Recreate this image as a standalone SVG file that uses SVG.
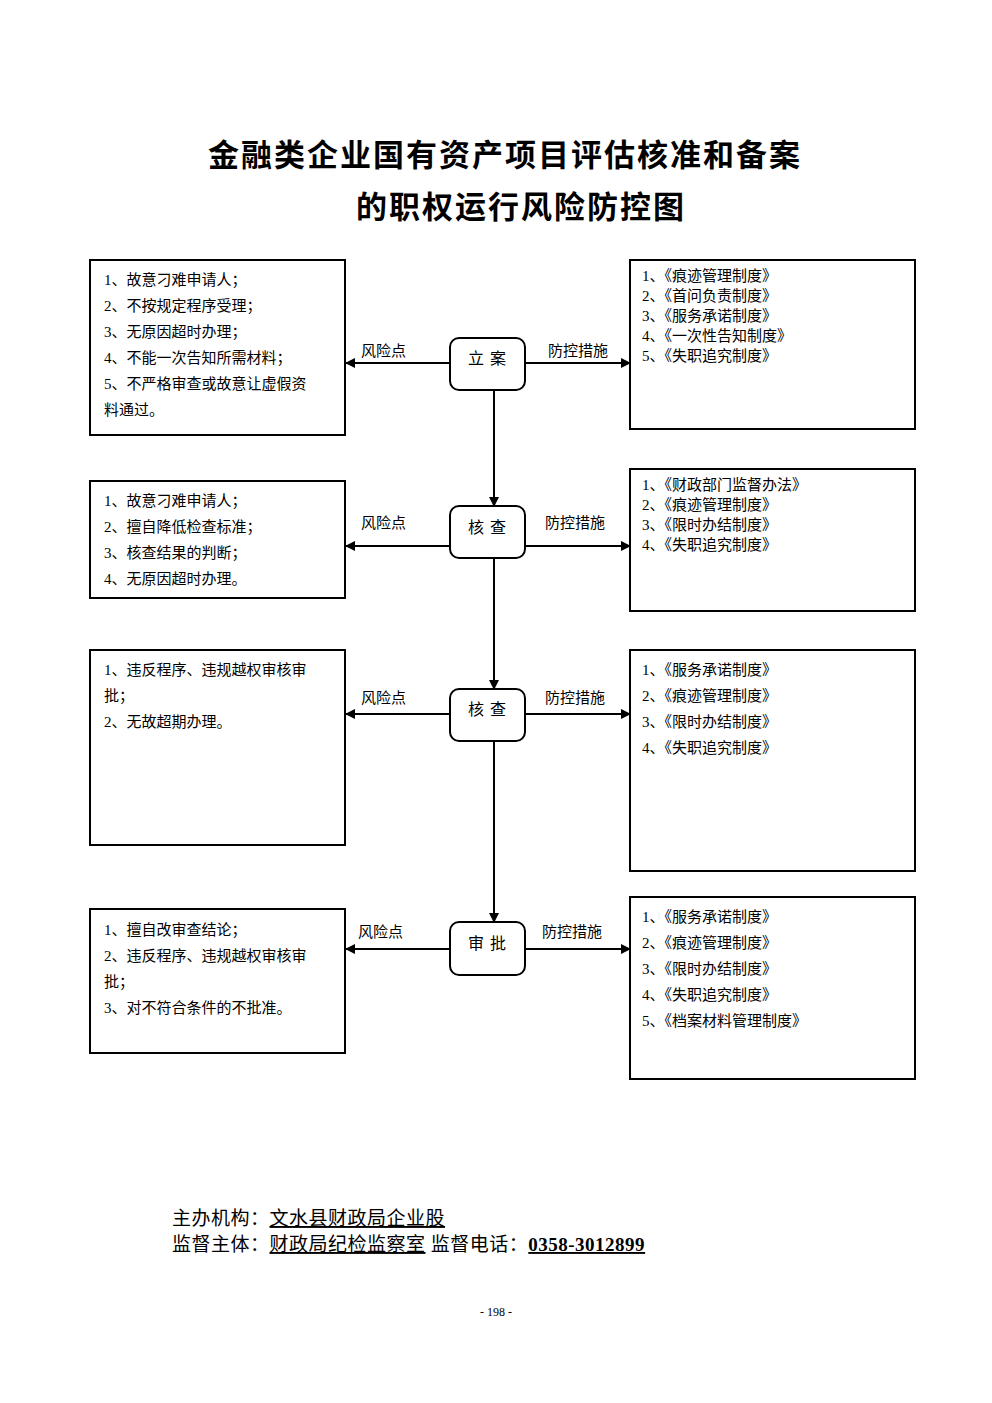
<svg xmlns="http://www.w3.org/2000/svg" width="992" height="1403" viewBox="0 0 992 1403">
<defs>
<marker id="ah" markerWidth="10" markerHeight="10" refX="9" refY="5" orient="auto" markerUnits="userSpaceOnUse"><path d="M0,0 L10,5 L0,10 Z" fill="#000"/></marker>
<style>
.b{fill:#fff;stroke:#000;stroke-width:2}
.n{fill:#fff;stroke:#000;stroke-width:2}
.t{font-family:"Liberation Serif","Noto Sans CJK SC",serif;font-size:15px;fill:#000}
.nt{font-family:"Liberation Serif","Noto Sans CJK SC",serif;font-size:16px;fill:#000;text-anchor:middle;letter-spacing:6px}
.l{stroke:#000;stroke-width:2;fill:none;marker-end:url(#ah)}
.h{font-family:"Noto Sans CJK SC",serif;font-size:31px;font-weight:bold;text-anchor:middle;letter-spacing:2px}
.f{font-family:"Liberation Serif","Noto Sans CJK SC",serif;font-size:19px;letter-spacing:0.5px}
</style>
</defs>
<rect width="992" height="1403" fill="#fff"/>
<text class="h" x="505" y="166">金融类企业国有资产项目评估核准和备案</text>
<text class="h" x="521" y="218">的职权运行风险防控图</text>
<g id="connectors">
<path class="l" d="M494,390 V506"/>
<path class="l" d="M494,558 V689"/>
<path class="l" d="M494,741 V922"/>
<path class="l" d="M450,363 H346"/><path class="l" d="M525,363 H630"/>
<path class="l" d="M450,546 H346"/><path class="l" d="M525,546 H630"/>
<path class="l" d="M450,714 H346"/><path class="l" d="M525,714 H630"/>
<path class="l" d="M450,949 H346"/><path class="l" d="M525,949 H630"/>
<text class="t" x="361" y="356">风险点</text><text class="t" x="548" y="356">防控措施</text>
<text class="t" x="361" y="528">风险点</text><text class="t" x="545" y="528">防控措施</text>
<text class="t" x="361" y="703">风险点</text><text class="t" x="545" y="703">防控措施</text>
<text class="t" x="358" y="937">风险点</text><text class="t" x="542" y="937">防控措施</text>
</g>
<g id="n1"><rect class="n" x="450" y="338" width="75" height="52" rx="9"/><text class="nt" x="490" y="364">立案</text></g>
<g id="n2"><rect class="n" x="450" y="506" width="75" height="52" rx="9"/><text class="nt" x="490" y="533">核查</text></g>
<g id="n3"><rect class="n" x="450" y="689" width="75" height="52" rx="9"/><text class="nt" x="490" y="715">核查</text></g>
<g id="n4"><rect class="n" x="450" y="922" width="75" height="53" rx="9"/><text class="nt" x="490" y="949">审批</text></g>
<g id="L1"><rect class="b" x="90" y="260" width="255" height="175"/>
<text class="t" x="104" y="285">1、故意刁难申请人；</text><text class="t" x="104" y="311">2、不按规定程序受理；</text><text class="t" x="104" y="337">3、无原因超时办理；</text><text class="t" x="104" y="363">4、不能一次告知所需材料；</text><text class="t" x="104" y="389">5、不严格审查或故意让虚假资</text><text class="t" x="104" y="415">料通过。</text></g>
<g id="R1"><rect class="b" x="630" y="260" width="285" height="169"/>
<text class="t" x="642" y="281">1、《痕迹管理制度》</text><text class="t" x="642" y="301">2、《首问负责制度》</text><text class="t" x="642" y="321">3、《服务承诺制度》</text><text class="t" x="642" y="341">4、《一次性告知制度》</text><text class="t" x="642" y="361">5、《失职追究制度》</text></g>
<g id="L2"><rect class="b" x="90" y="481" width="255" height="117"/>
<text class="t" x="104" y="506">1、故意刁难申请人；</text><text class="t" x="104" y="532">2、擅自降低检查标准；</text><text class="t" x="104" y="558">3、核查结果的判断；</text><text class="t" x="104" y="584">4、无原因超时办理。</text></g>
<g id="R2"><rect class="b" x="630" y="469" width="285" height="142"/>
<text class="t" x="642" y="490">1、《财政部门监督办法》</text><text class="t" x="642" y="510">2、《痕迹管理制度》</text><text class="t" x="642" y="530">3、《限时办结制度》</text><text class="t" x="642" y="550">4、《失职追究制度》</text></g>
<g id="L3"><rect class="b" x="90" y="650" width="255" height="195"/>
<text class="t" x="104" y="675">1、违反程序、违规越权审核审</text><text class="t" x="104" y="701">批；</text><text class="t" x="104" y="727">2、无故超期办理。</text></g>
<g id="R3"><rect class="b" x="630" y="650" width="285" height="221"/>
<text class="t" x="642" y="675">1、《服务承诺制度》</text><text class="t" x="642" y="701">2、《痕迹管理制度》</text><text class="t" x="642" y="727">3、《限时办结制度》</text><text class="t" x="642" y="753">4、《失职追究制度》</text></g>
<g id="L4"><rect class="b" x="90" y="909" width="255" height="144"/>
<text class="t" x="104" y="935">1、擅自改审查结论；</text><text class="t" x="104" y="961">2、违反程序、违规越权审核审</text><text class="t" x="104" y="987">批；</text><text class="t" x="104" y="1013">3、对不符合条件的不批准。</text></g>
<g id="R4"><rect class="b" x="630" y="897" width="285" height="182"/>
<text class="t" x="642" y="922">1、《服务承诺制度》</text><text class="t" x="642" y="948">2、《痕迹管理制度》</text><text class="t" x="642" y="974">3、《限时办结制度》</text><text class="t" x="642" y="1000">4、《失职追究制度》</text><text class="t" x="642" y="1026">5、《档案材料管理制度》</text></g>
<g id="footer">
<text class="f" x="172" y="1225">主办机构：<tspan text-decoration="underline">文水县财政局企业股</tspan></text>
<text class="f" x="172" y="1251">监督主体：<tspan text-decoration="underline">财政局纪检监察室</tspan> 监督电话：<tspan text-decoration="underline" font-weight="bold">0358-3012899</tspan></text>
<text x="496" y="1316" font-family="Liberation Serif" font-size="12" text-anchor="middle">- 198 -</text>
</g>
</svg>
